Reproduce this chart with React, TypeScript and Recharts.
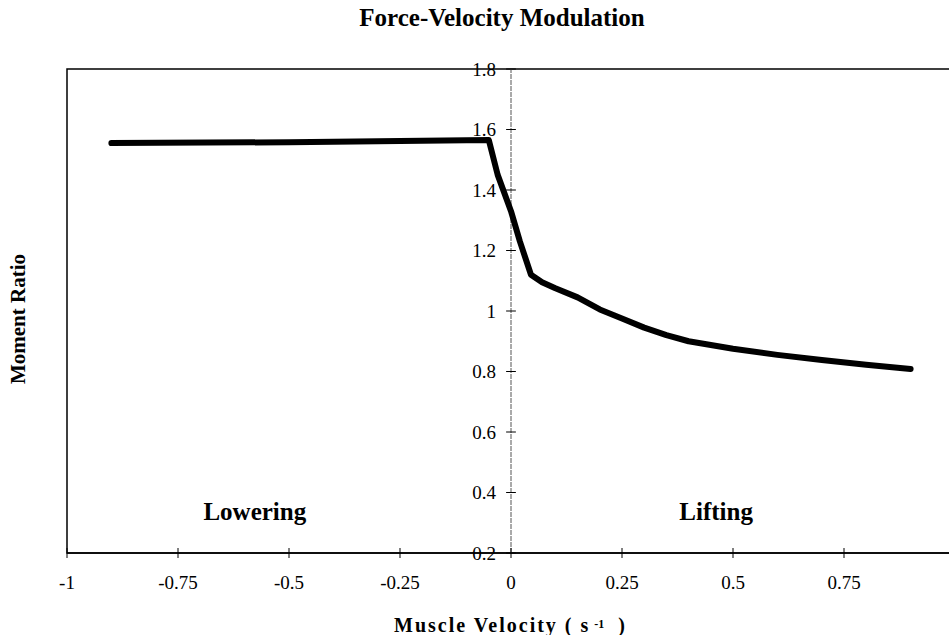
import React from "react";
import {
  LineChart,
  Line,
  XAxis,
  YAxis,
  ReferenceLine,
  ReferenceArea,
  ReferenceDot,
} from "recharts";

// velocity (1/s) and moment ratio
const velocity = [
  -0.9, -0.5, -0.25, -0.05, -0.03, 0, 0.02, 0.045, 0.07, 0.1, 0.15, 0.2, 0.25,
  0.3, 0.35, 0.4, 0.5, 0.6, 0.7, 0.8, 0.9,
];
const momentRatio = [
  1.555, 1.558, 1.562, 1.565, 1.45, 1.33, 1.23, 1.12, 1.095, 1.075, 1.045,
  1.005, 0.975, 0.945, 0.92, 0.9, 0.875, 0.855, 0.838, 0.822, 0.808,
];

// the x=1 tick falls just past the right edge of the figure
const xTicks = [-1, -0.75, -0.5, -0.25, 0, 0.25, 0.5, 0.75];
const yTicks = [0.2, 0.4, 0.6, 0.8, 1, 1.2, 1.4, 1.6, 1.8];

const data = velocity.map((v, i) => ({ v, r: momentRatio[i] }));

const FONT = "'Liberation Serif', 'Times New Roman', serif";

function XTick(props: any) {
  const { x, y, payload } = props;
  return (
    <g>
      <line x1={x} x2={x} y1={y - 5} y2={y + 5} stroke="#000" strokeWidth={1} />
      <text x={x} y={y + 36} textAnchor="middle" fontSize={19} fill="#000" fontFamily={FONT}>
        {payload.value}
      </text>
    </g>
  );
}

export default function App() {
  return (
    <div
      style={{
        position: "absolute",
        left: 0,
        top: 0,
        width: 949,
        height: 635,
        overflow: "hidden",
        background: "#fff",
        fontFamily: FONT,
      }}
    >
      <div
        style={{
          position: "absolute",
          left: 302,
          width: 400,
          top: 4,
          textAlign: "center",
          fontSize: 25,
          fontWeight: "bold",
          lineHeight: "28px",
        }}
      >
        Force-Velocity Modulation
      </div>

      <div
        style={{
          position: "absolute",
          left: 18 - 80,
          top: 319 - 12,
          width: 160,
          height: 24,
          lineHeight: "24px",
          textAlign: "center",
          fontSize: 21,
          fontWeight: "bold",
          transform: "rotate(-90deg)",
        }}
      >
        Moment Ratio
      </div>

      <div
        style={{
          position: "absolute",
          left: 394,
          top: 612,
          fontSize: 20,
          fontWeight: "bold",
          letterSpacing: 2,
          lineHeight: "24px",
          whiteSpace: "nowrap",
        }}
      >
        Muscle Velocity ( s
        <span style={{ fontSize: 12, verticalAlign: "4px", letterSpacing: 0, marginLeft: 4 }}>-1</span>
        <span style={{ marginLeft: 14 }}>)</span>
      </div>

      <LineChart
        width={970}
        height={635}
        data={data}
        margin={{ top: 69, left: 67, right: 15, bottom: 52 }}
        style={{ position: "absolute", left: 0, top: 0 }}
      >
        <XAxis
          dataKey="v"
          type="number"
          domain={[-1, 1]}
          ticks={xTicks}
          height={30}
          tickSize={0}
          tickMargin={0}
          tickLine={false}
          axisLine={{ stroke: "#000", strokeWidth: 1.5 }}
          tick={<XTick />}
          interval={0}
        />
        <YAxis hide type="number" domain={[0.2, 1.8]} ticks={yTicks} />

        <ReferenceArea
          x1={-1}
          x2={1}
          y1={0.2}
          y2={1.8}
          fill="none"
          stroke="#000"
          strokeWidth={1.5}
          fillOpacity={0}
        />

        <ReferenceLine x={0} stroke="#555" strokeWidth={1} strokeDasharray="5 1" />

        {yTicks.map((t) => (
          <ReferenceLine
            key={t}
            segment={[
              { x: -0.011, y: t },
              { x: 0.011, y: t },
            ]}
            stroke="#000"
            strokeWidth={1}
            label={{
              value: String(t),
              position: "left",
              offset: 10,
              fill: "#000",
              fontSize: 19,
              fontFamily: FONT,
            }}
          />
        ))}

        <ReferenceDot
          x={-0.577}
          y={0.34}
          r={0}
          fill="none"
          stroke="none"
          label={{
            value: "Lowering",
            position: "center",
            fill: "#000",
            fontSize: 25,
            fontWeight: "bold",
            fontFamily: FONT,
          }}
        />
        <ReferenceDot
          x={0.462}
          y={0.34}
          r={0}
          fill="none"
          stroke="none"
          label={{
            value: "Lifting",
            position: "center",
            fill: "#000",
            fontSize: 25,
            fontWeight: "bold",
            fontFamily: FONT,
          }}
        />

        <Line
          dataKey="r"
          type="linear"
          stroke="#000"
          strokeWidth={6}
          strokeLinecap="round"
          strokeLinejoin="round"
          dot={false}
          isAnimationActive={false}
        />
      </LineChart>
    </div>
  );
}
